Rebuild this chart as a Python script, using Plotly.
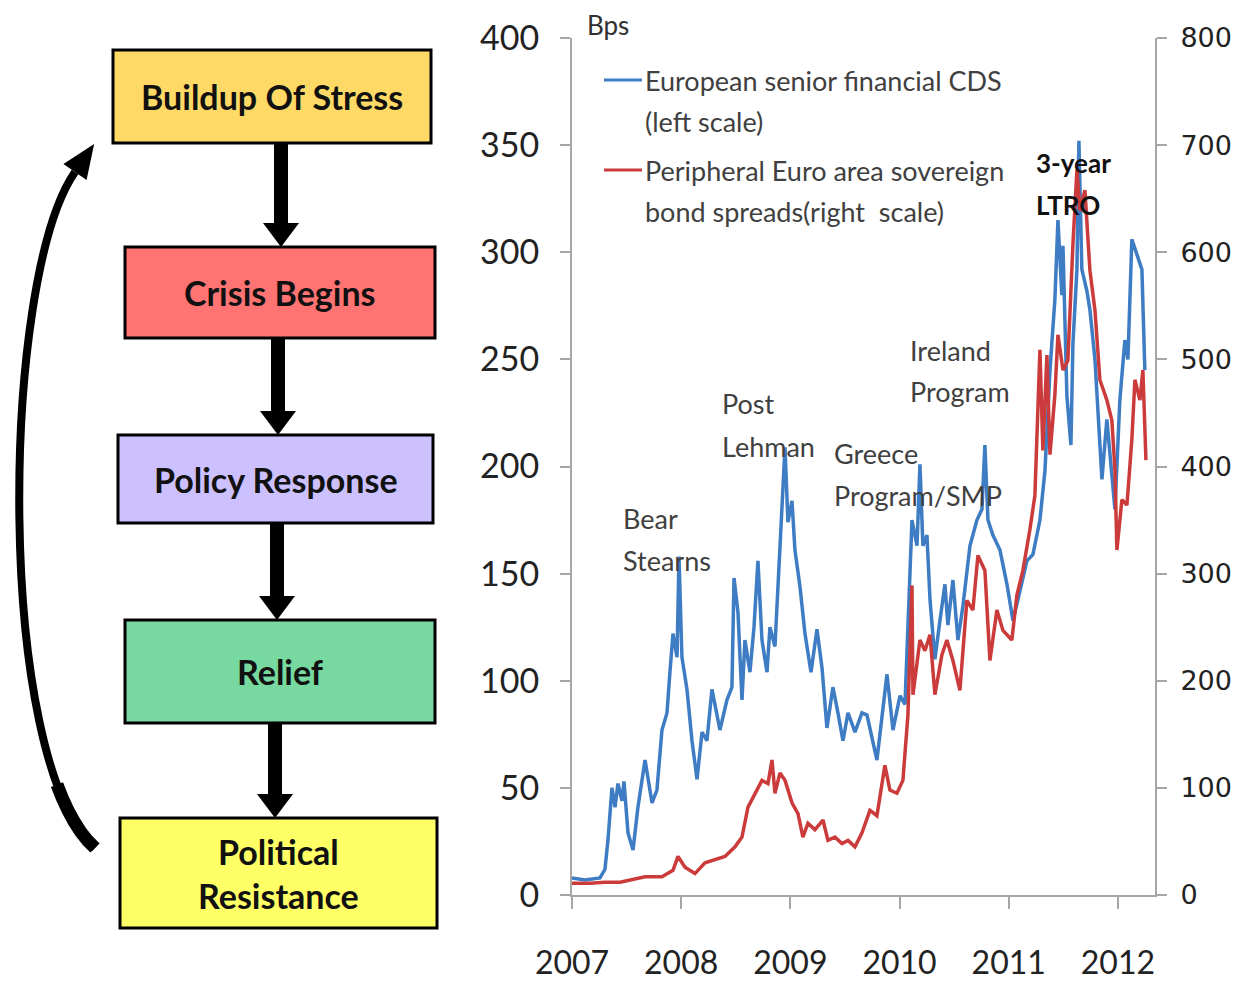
import plotly.graph_objects as go

# page has an 8px body margin, so the figure is drawn 8px smaller and positions are shifted
OFF = 8
W, H = 1247 - OFF, 981 - OFF

# European senior financial CDS (left scale, bps)
cds_year = [2007.000, 2007.119, 2007.256, 2007.302, 2007.330, 2007.366, 2007.394, 2007.421, 2007.458, 2007.476,
            2007.513, 2007.559, 2007.604, 2007.669, 2007.733, 2007.778, 2007.824, 2007.870, 2007.897, 2007.925,
            2007.962, 2007.980, 2008.007, 2008.053, 2008.099, 2008.145, 2008.191, 2008.236, 2008.282, 2008.328,
            2008.355, 2008.419, 2008.465, 2008.484, 2008.520, 2008.557, 2008.584, 2008.630, 2008.667, 2008.703,
            2008.740, 2008.786, 2008.813, 2008.859, 2008.905, 2008.951, 2008.978, 2009.015, 2009.042, 2009.088,
            2009.134, 2009.189, 2009.244, 2009.290, 2009.335, 2009.390, 2009.436, 2009.482, 2009.528, 2009.592,
            2009.656, 2009.702, 2009.793, 2009.885, 2009.940, 2010.004, 2010.050, 2010.114, 2010.160, 2010.187,
            2010.214, 2010.251, 2010.279, 2010.324, 2010.370, 2010.416, 2010.443, 2010.489, 2010.535, 2010.581,
            2010.645, 2010.709, 2010.755, 2010.782, 2010.810, 2010.855, 2010.920, 2010.984, 2011.039, 2011.103,
            2011.167, 2011.222, 2011.286, 2011.332, 2011.378, 2011.423, 2011.451, 2011.487, 2011.497, 2011.533,
            2011.570, 2011.588, 2011.625, 2011.643, 2011.670, 2011.716, 2011.744, 2011.790, 2011.817, 2011.854,
            2011.899, 2011.945, 2011.973, 2012.018, 2012.064, 2012.092, 2012.128, 2012.174, 2012.220, 2012.247]
cds_bps = [8, 7, 8, 12, 26, 50, 41, 52, 44, 53,
           29, 21, 41, 63, 43, 49, 77, 85, 104, 122,
           111, 158, 111, 96, 72, 54, 76, 72, 96, 85,
           77, 91, 97, 148, 132, 91, 119, 104, 125, 156,
           119, 104, 125, 116, 166, 209, 174, 184, 161, 144,
           122, 104, 124, 106, 78, 97, 85, 72, 85, 76,
           85, 84, 63, 103, 77, 93, 89, 175, 163, 201,
           163, 168, 138, 110, 128, 145, 126, 147, 119, 135,
           163, 175, 180, 210, 175, 168, 161, 145, 128, 142,
           156, 159, 175, 198, 245, 278, 315, 280, 303, 233,
           210, 257, 292, 352, 292, 282, 273, 250, 226, 194,
           222, 198, 180, 231, 259, 250, 306, 299, 292, 245]

# Peripheral euro area sovereign bond spreads (right scale, bps)
spread_year = [2007.000, 2007.165, 2007.302, 2007.440, 2007.669, 2007.824, 2007.925, 2007.971, 2008.035, 2008.126,
               2008.218, 2008.310, 2008.401, 2008.493, 2008.557, 2008.612, 2008.676, 2008.740, 2008.795, 2008.832,
               2008.859, 2008.905, 2008.951, 2009.015, 2009.070, 2009.115, 2009.161, 2009.225, 2009.299, 2009.344,
               2009.408, 2009.473, 2009.528, 2009.592, 2009.656, 2009.729, 2009.793, 2009.866, 2009.912, 2009.976,
               2010.031, 2010.077, 2010.114, 2010.123, 2010.187, 2010.233, 2010.279, 2010.324, 2010.388, 2010.434,
               2010.489, 2010.553, 2010.617, 2010.672, 2010.718, 2010.782, 2010.828, 2010.892, 2010.947, 2011.029,
               2011.075, 2011.130, 2011.194, 2011.240, 2011.286, 2011.313, 2011.350, 2011.378, 2011.423, 2011.451,
               2011.497, 2011.542, 2011.588, 2011.625, 2011.652, 2011.698, 2011.744, 2011.790, 2011.835, 2011.899,
               2011.945, 2011.973, 2011.991, 2012.037, 2012.083, 2012.128, 2012.156, 2012.202, 2012.229, 2012.257]
spread_bps = [11, 11, 12, 12, 17, 17, 23, 36, 26, 20,
              30, 33, 36, 45, 54, 82, 95, 107, 104, 126,
              95, 114, 107, 86, 76, 54, 67, 61, 70, 51,
              54, 48, 51, 45, 58, 79, 74, 121, 98, 95,
              107, 168, 289, 187, 238, 228, 243, 187, 224, 238,
              219, 191, 275, 266, 317, 303, 219, 266, 247, 238,
              280, 303, 341, 373, 509, 415, 504, 411, 467, 523,
              490, 499, 607, 677, 639, 658, 583, 546, 481, 462,
              443, 397, 322, 369, 364, 425, 481, 462, 490, 406]

year_ticks = [2007, 2008, 2009, 2010, 2011, 2012]

boxes = [("Buildup Of Stress", "#FFD966"), ("Crisis Begins", "#FF7373"),
         ("Policy Response", "#CCC0FF"), ("Relief", "#77D9A0"),
         ("Political<br>Resistance", "#FFFF66")]
# box pixel extents (x0, y0, x1, y1)
box_px = [(113, 50, 431, 143), (125, 247, 435, 338), (118, 435, 433, 523),
          (125, 620, 435, 723), (120, 818, 437, 928)]
arrow_px = [(281, 143, 247), (278, 338, 435), (277, 523, 620), (275, 723, 818)]


def px(x):
    return (x - OFF) / W


def py(y):
    return 1 - (y - OFF) / H


fig = go.Figure()
fig.add_trace(go.Scatter(x=cds_year, y=cds_bps, mode="lines", name="European senior financial CDS",
                         line=dict(color="#3E7CC4", width=3.5)))
fig.add_trace(go.Scatter(x=spread_year, y=spread_bps, mode="lines", yaxis="y2",
                         name="Peripheral Euro area sovereign bond spreads",
                         line=dict(color="#CC3B3B", width=3.5)))

shapes = []
annots = []

# flowchart boxes
for (label, color), (x0, y0, x1, y1) in zip(boxes, box_px):
    shapes.append(dict(type="rect", xref="paper", yref="paper", x0=px(x0), x1=px(x1), y0=py(y1), y1=py(y0),
                       fillcolor=color, line=dict(color="black", width=3), layer="above"))
    annots.append(dict(xref="paper", yref="paper", x=px((x0 + x1) / 2), y=py((y0 + y1) / 2),
                       text="<b>" + label + "</b>", showarrow=False,
                       font=dict(family="Lato", size=34, color="#111111"), xanchor="center", yanchor="middle"))

# straight arrows between boxes
for cx, ya, yb in arrow_px:
    head = yb - 24
    shapes.append(dict(type="rect", xref="paper", yref="paper", x0=px(cx - 7), x1=px(cx + 7),
                       y0=py(head), y1=py(ya), fillcolor="black", line=dict(width=0)))
    path = "M %f %f L %f %f L %f %f Z" % (px(cx - 18), py(head), px(cx + 18), py(head), px(cx), py(yb))
    shapes.append(dict(type="path", xref="paper", yref="paper", path=path, fillcolor="black", line=dict(width=0)))

# curved feedback arrow (cubic bezier, thicker near its tail)
p0, c1, c2, p3 = (95, 848), (-5, 760), (0, 280), (75, 172)


def bez(t):
    a, b, c, d = (1 - t) ** 3, 3 * (1 - t) ** 2 * t, 3 * (1 - t) * t ** 2, t ** 3
    return (a * p0[0] + b * c1[0] + c * c2[0] + d * p3[0], a * p0[1] + b * c1[1] + c * c2[1] + d * p3[1])


curve = "M %f %f C %f %f, %f %f, %f %f" % (px(p0[0]), py(p0[1]), px(c1[0]), py(c1[1]),
                                           px(c2[0]), py(c2[1]), px(p3[0]), py(p3[1]))
shapes.append(dict(type="path", xref="paper", yref="paper", path=curve, line=dict(color="black", width=8)))
tail = [bez(i / 40) for i in range(0, 7)]
tail_path = "M " + " L ".join("%f %f" % (px(x), py(y)) for x, y in tail)
shapes.append(dict(type="path", xref="paper", yref="paper", path=tail_path, line=dict(color="black", width=13)))
dx, dy = 0.563, -0.826
tip = (p3[0] + 34 * dx, p3[1] + 34 * dy)
b1 = (p3[0] + 14 * 0.826, p3[1] + 14 * 0.563)
b2 = (p3[0] - 14 * 0.826, p3[1] - 14 * 0.563)
shapes.append(dict(type="path", xref="paper", yref="paper",
                   path="M %f %f L %f %f L %f %f Z" % (px(tip[0]), py(tip[1]), px(b1[0]), py(b1[1]),
                                                       px(b2[0]), py(b2[1])),
                   fillcolor="black", line=dict(width=0)))

# legend (drawn by hand to keep the wide line spacing)
txt_font = dict(family="Lato", size=27, color="#404040")
shapes.append(dict(type="line", xref="paper", yref="paper", x0=px(604), x1=px(642), y0=py(80), y1=py(80),
                   line=dict(color="#3E7CC4", width=3)))
shapes.append(dict(type="line", xref="paper", yref="paper", x0=px(604), x1=px(642), y0=py(170), y1=py(170),
                   line=dict(color="#CC3B3B", width=3)))


def text(x, y, s, font=txt_font):
    annots.append(dict(xref="paper", yref="paper", x=px(x), y=py(y), text=s, showarrow=False,
                       xanchor="left", yanchor="middle", font=font))


text(643, 80, "European senior financial CDS")
text(643, 122, "(left scale)")
text(643, 170, "Peripheral Euro area sovereign")
text(643, 211, "bond spreads(right  scale)")
text(585, 25, "Bps", dict(family="Lato", size=26, color="#303030"))
text(621, 518, "Bear")
text(621, 560, "Stearns")
text(720, 403, "Post")
text(720, 446, "Lehman")
text(832, 453, "Greece")
text(832, 495, "Program/SMP")
text(908, 350, "Ireland")
text(908, 392, "Program")
bold = dict(family="Lato", size=26, color="#111111")
text(1034, 163, "<b>3-year</b>", bold)
text(1034, 205, "<b>LTRO</b>", bold)

axis_grey = "#A6A6A6"
fig.update_layout(
    width=W, height=H, margin=dict(l=0, r=0, t=0, b=0, autoexpand=False),
    paper_bgcolor="white", plot_bgcolor="white", showlegend=False,
    shapes=shapes, annotations=annots,
    xaxis=dict(domain=[px(572), px(1155)], range=[2007, 2012.34], tickvals=year_ticks,
               ticktext=[str(y) for y in year_ticks], showgrid=False, zeroline=False, automargin=False,
               showline=True, linecolor=axis_grey, linewidth=2, ticks="outside", ticklen=12,
               tickcolor=axis_grey, tickwidth=2, ticklabelstandoff=27,
               tickfont=dict(family="Lato", size=32, color="#222222")),
    yaxis=dict(domain=[py(895), py(38)], range=[0, 400], dtick=50, showgrid=False, zeroline=False,
               automargin=False,
               showline=True, linecolor=axis_grey, linewidth=2, ticks="outside", ticklen=10,
               tickcolor=axis_grey, tickwidth=2, ticklabelstandoff=14,
               tickfont=dict(family="Lato", size=34, color="#222222")),
    yaxis2=dict(overlaying="y", side="right", range=[0, 800], dtick=100, showgrid=False, zeroline=False,
                automargin=False,
                showline=True, linecolor=axis_grey, linewidth=2, ticks="outside", ticklen=10,
                tickcolor=axis_grey, tickwidth=2, ticklabelstandoff=8,
                tickfont=dict(family="DejaVu Sans", size=27, color="#222222")),
)

fig.write_html("out.html")
